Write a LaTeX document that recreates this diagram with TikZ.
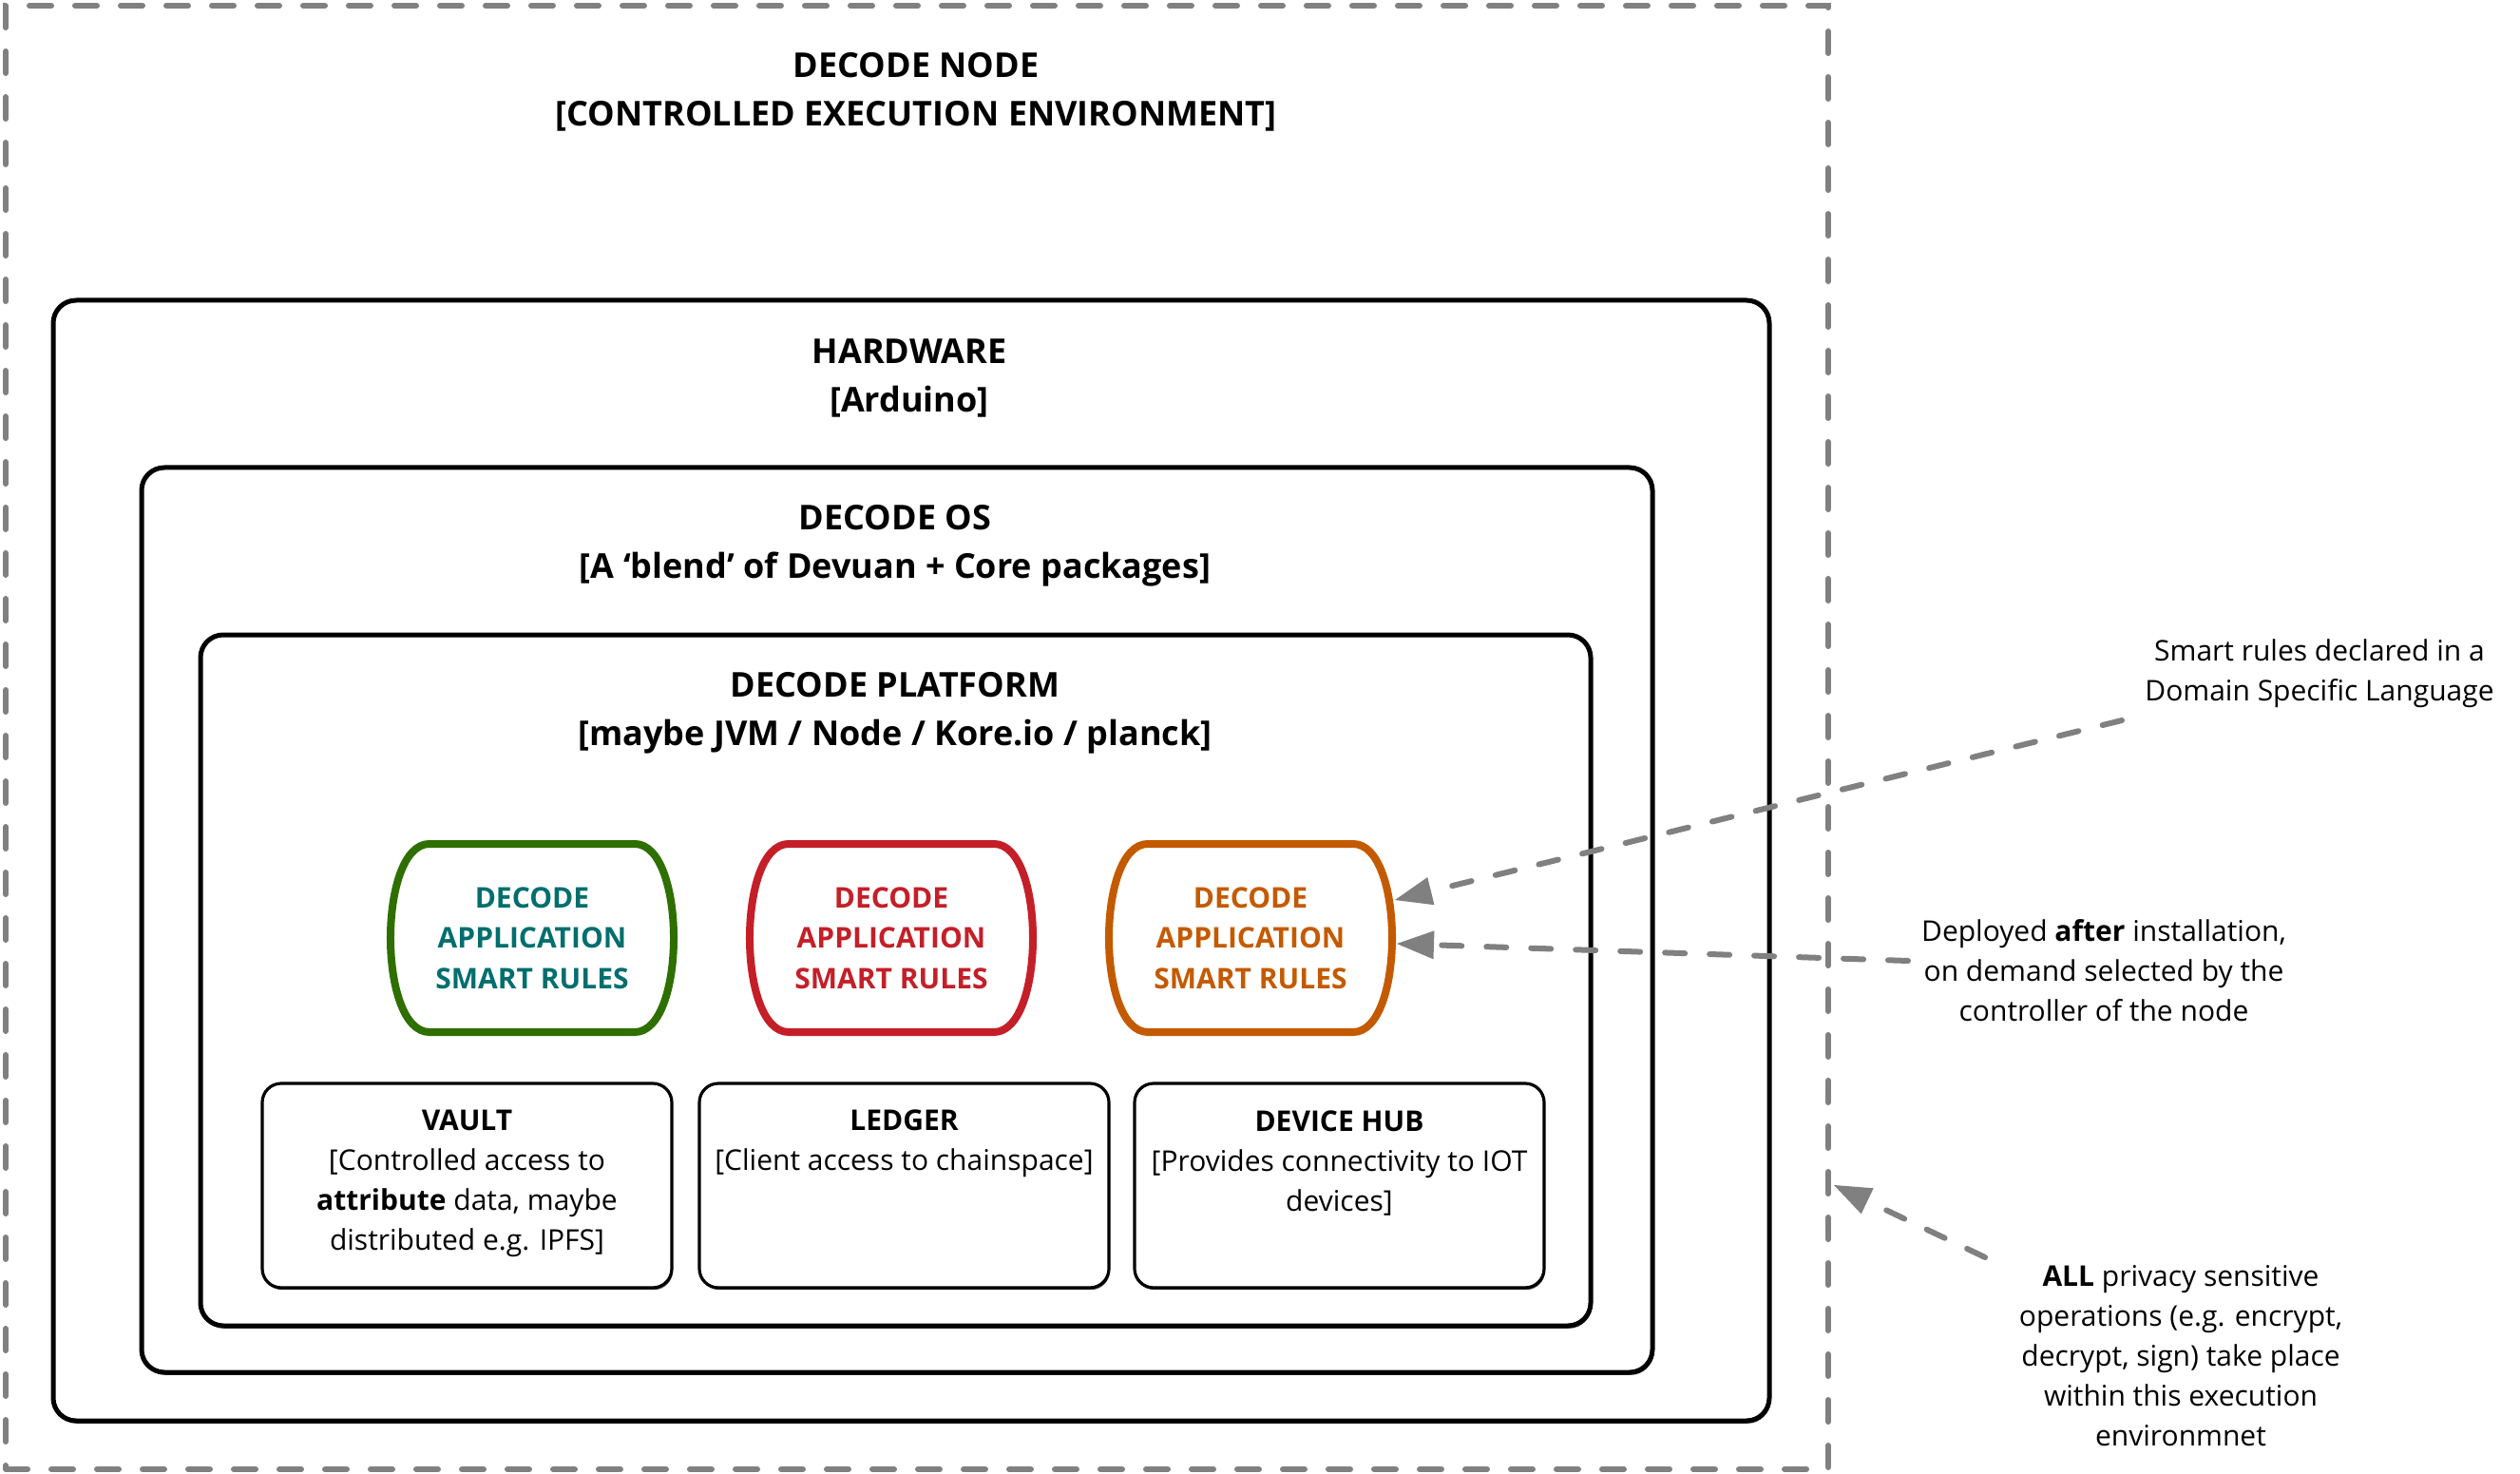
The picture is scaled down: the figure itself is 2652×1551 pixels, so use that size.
\documentclass[tikz,border=0pt]{standalone}
\usepackage{fontspec}
\setmainfont{Open Sans}
\usetikzlibrary{shadows,arrows.meta}
\definecolor{dashgray}{HTML}{808080}
\definecolor{rgreen}{HTML}{2E6F00}
\definecolor{rteal}{HTML}{006E6E}
\definecolor{rred}{HTML}{C41F28}
\definecolor{rorange}{HTML}{C45A00}
\newcommand\rulesshape[2]{%
  \draw[line width=4pt,#2,fill=white]
    ([shift={(-108,-99)}]#1.center) -- ([shift={(108,-99)}]#1.center)
    .. controls ([shift={(162.7,-99)}]#1.center) and ([shift={(162.7,99)}]#1.center) .. ([shift={(108,99)}]#1.center)
    -- ([shift={(-108,99)}]#1.center)
    .. controls ([shift={(-162.7,99)}]#1.center) and ([shift={(-162.7,-99)}]#1.center) .. ([shift={(-108,-99)}]#1.center)
    -- cycle;}
\begin{document}
\begin{tikzpicture}[x=0.5pt,y=-0.5pt,
  bigbox/.style={draw=black,line width=2.5pt,fill=white,rounded corners=12pt,
    drop shadow={shadow xshift=0.6pt,shadow yshift=-1.4pt,opacity=0.7,fill=black}},
  smallbox/.style={draw=black,line width=1.6pt,fill=white,rounded corners=10pt,
    minimum width=215.5pt,minimum height=107.5pt,
    drop shadow={shadow xshift=0.5pt,shadow yshift=-1.1pt,opacity=0.7,fill=black}},
  titletext/.style={align=center,font=\bfseries\fontsize{18}{25.5}\selectfont},
  bodytext/.style={align=center,font=\fontsize{15}{21}\selectfont},
  rulestext/.style={align=center,font=\bfseries\fontsize{15}{21.25}\selectfont},
  notearrow/.style={draw=dashgray,line width=3pt,line cap=round,
    dash pattern=on 10.5pt off 13pt,
    -{Triangle[length=19.5pt,width=15pt,line width=0pt]}},
]
\useasboundingbox (0,0) rectangle (2652,1551);
% outer dashed environment
\node[draw=dashgray,line width=3pt,line cap=round,dash pattern=on 11.5pt off 12.5pt,
  minimum width=959pt,minimum height=770pt,inner sep=0pt] (outer) at (965,776) {};
\node[titletext] (outertitle) at (964,97) {DECODE NODE\\{[}CONTROLLED EXECUTION ENVIRONMENT{]}};
% hardware
\node[bigbox,minimum width=903pt,minimum height=589.5pt] (hw) at (959,905.5) {};
\node[titletext] (hwtitle) at (957,398) {HARDWARE\\{[}Arduino{]}};
% os
\node[bigbox,minimum width=795pt,minimum height=476pt] (os) at (944,968) {};
\node[titletext] (ostitle) at (942,574) {DECODE OS\\{[}A ‘blend’ of Devuan + Core packages{]}};
% platform
\node[bigbox,minimum width=731.5pt,minimum height=363.5pt] (plat) at (942.5,1031.5) {};
\node[titletext] (plattitle) at (942,750) {DECODE PLATFORM\\{[}maybe JVM / Node / Kore.io / planck{]}};
% smart rules
\coordinate (gc) at (560,987);
\coordinate (rc) at (938,987);
\coordinate (oc) at (1316,987);
\rulesshape{gc}{rgreen}
\rulesshape{rc}{rred}
\rulesshape{oc}{rorange}
\node[rulestext,text=rteal] (green) at (gc) {DECODE\\APPLICATION\\SMART RULES};
\node[rulestext,text=rred] (red) at (rc) {DECODE\\APPLICATION\\SMART RULES};
\node[rulestext,text=rorange] (orange) at (oc) {DECODE\\APPLICATION\\SMART RULES};
% components
\node[smallbox] (vault) at (491.5,1247.5) {};
\node[smallbox] (ledger) at (951.5,1247.5) {};
\node[smallbox] (hub) at (1409.5,1247.5) {};
\node[bodytext] (vaulttext) at (491.5,1245) {\textbf{VAULT}\\{[}Controlled access to\\\textbf{attribute} data, maybe\\distributed e.g. IPFS{]}};
\node[bodytext] (ledgertext) at (951.5,1203) {\textbf{LEDGER}\\{[}Client access to chainspace{]}};
\node[bodytext] (hubtext) at (1409.5,1224) {\textbf{DEVICE HUB}\\{[}Provides connectivity to IOT\\devices{]}};
% notes
\node[bodytext] (note1) at (2441,709) {Smart rules declared in a\\Domain Specific Language};
\node[bodytext] (note2) at (2214,1021) {Deployed \textbf{after} installation,\\on demand selected by the\\controller of the node};
\node[bodytext] (note3) at (2295,1427) {\textbf{ALL} privacy sensitive\\operations (e.g. encrypt,\\decrypt, sign) take place\\within this execution\\environmnet};
% arrows
\coordinate (a1s) at (2233,758);
\coordinate (a1e) at (1468,947);
\coordinate (a2s) at (2008,1011);
\coordinate (a2e) at (1470,993);
\coordinate (a3s) at (2089,1323);
\coordinate (a3e) at (1930,1247);
\draw[notearrow] (a1s) -- (a1e);
\draw[notearrow] (a2s) -- (a2e);
\draw[notearrow] (a3s) -- (a3e);
\end{tikzpicture}
\end{document}
